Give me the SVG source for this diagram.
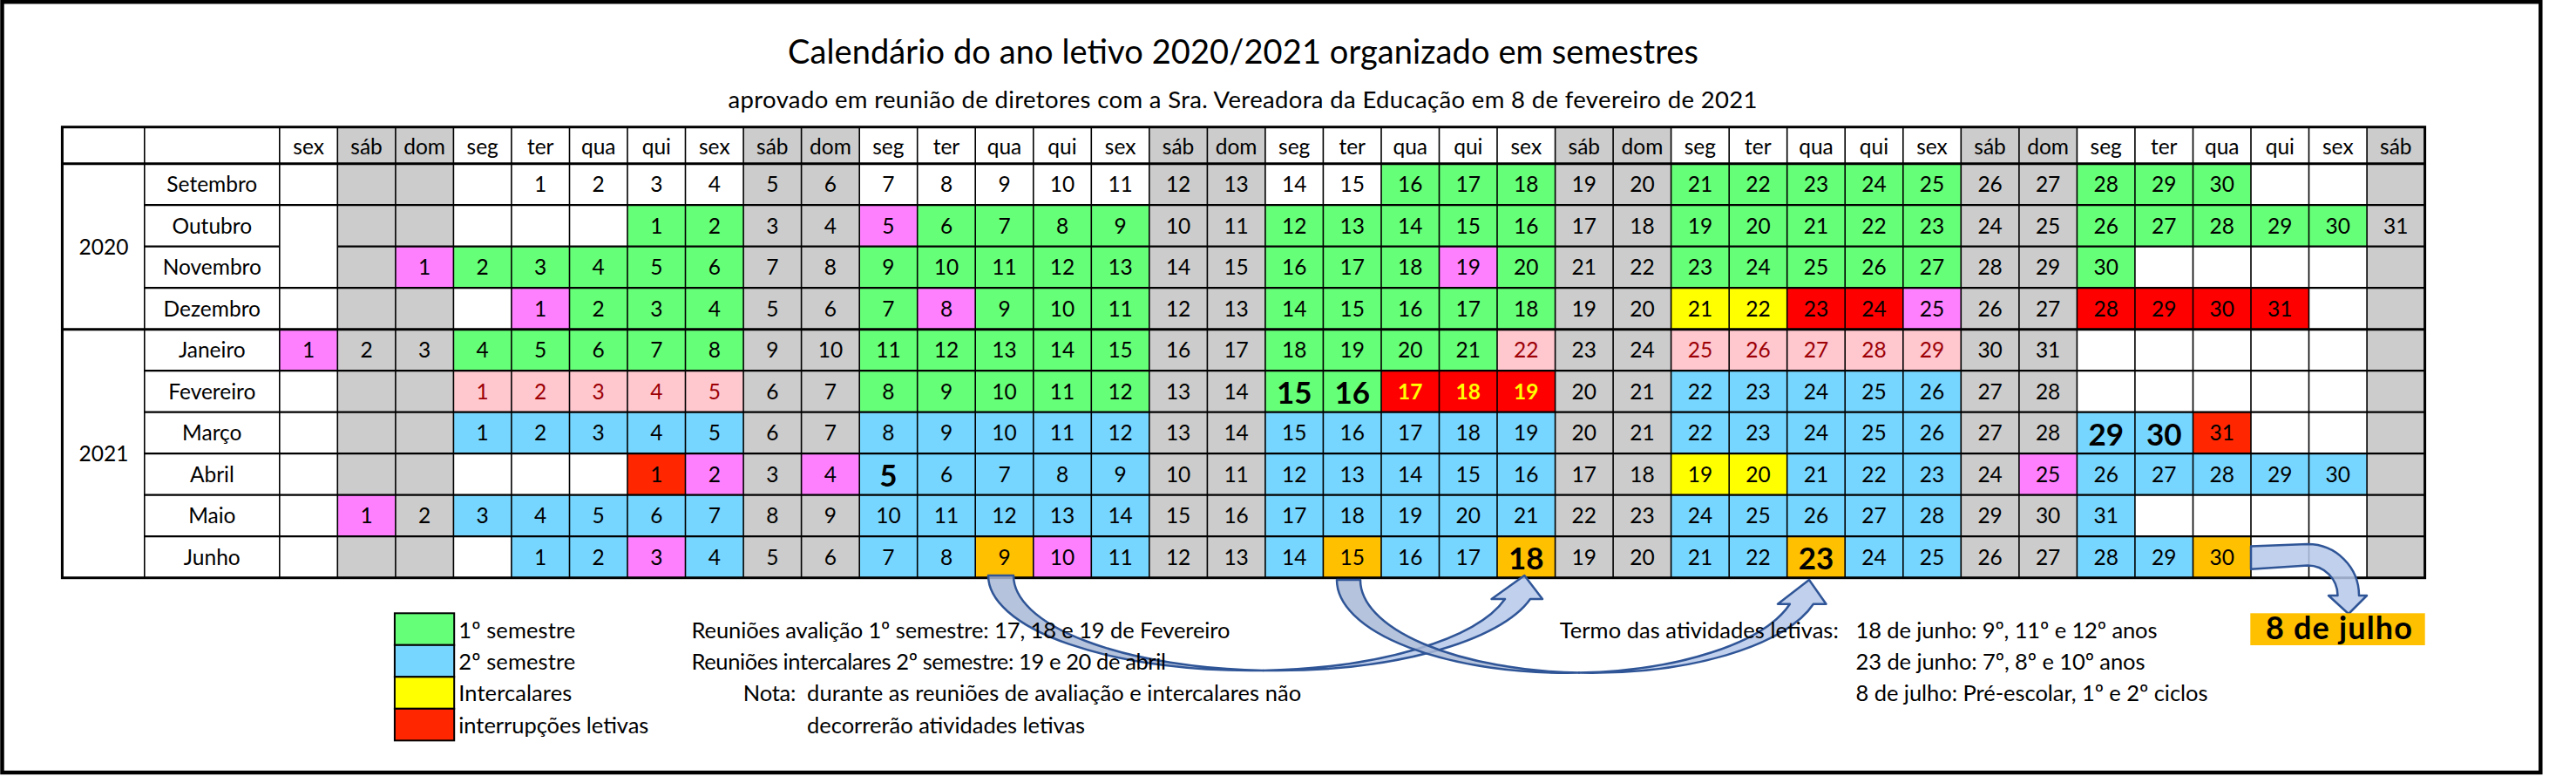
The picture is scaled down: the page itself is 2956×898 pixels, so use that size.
<svg xmlns="http://www.w3.org/2000/svg" width="2956" height="898" viewBox="0 0 2956 898">
<style>
text{font-family:Lato,"Liberation Sans","DejaVu Sans",sans-serif;fill:#000}
.t{font-size:24.5px;text-anchor:middle}
.B{font-size:35px;font-weight:700}
.yb{font-weight:700;fill:#FFFF00}
.pr{fill:#9C0006}
.g{fill:#66FF78}.b{fill:#76D6FF}.w{fill:#CCCCCC}.m{fill:#FF80FF}.p{fill:#FFC7CE}.r{fill:#FF0000}.o{fill:#FF2600}.y{fill:#FFFF00}.a{fill:#FFC000}
.lg{font-size:25.5px}
.grid{fill:none;stroke:#000}
.box{stroke:#000;stroke-width:2}
.arrow{stroke:#2F5597;stroke-width:2.5;stroke-linejoin:round}
.back{fill:#A9B9D6;fill-opacity:.85}
.front{fill:#B6C8E9;fill-opacity:.85}
</style>
<rect x="0" y="0" width="2956" height="898" fill="#fff"/>
<rect id="frame" x="2.5" y="2.2" width="2912.8" height="883.8" fill="#fff" stroke="#000" stroke-width="4.5"/>
<g id="title">
<text x="904" y="72.7" font-size="38" textLength="1045">Calendário do ano letivo 2020/2021 organizado em semestres</text>
<text x="835.5" y="124" font-size="27.5" textLength="1181">aprovado em reunião de diretores com a Sra. Vereadora da Educação em 8 de fevereiro de 2021</text>
</g>
<g id="table">
<rect x="71.4" y="145.7" width="2711.2" height="517" fill="#fff"/>
<g id="weekends">
<rect class="w" x="387.3" y="145.7" width="133.1" height="517"/>
<rect class="w" x="853.1" y="145.7" width="133.1" height="517"/>
<rect class="w" x="1318.8" y="145.7" width="133.1" height="517"/>
<rect class="w" x="1784.6" y="145.7" width="133.1" height="517"/>
<rect class="w" x="2250.3" y="145.7" width="133.1" height="517"/>
<rect class="w" x="2716.1" y="145.7" width="66.5" height="517"/>
</g>
<g id="header" class="t">
<text class="t" x="354.1" y="176.5">sex</text><text class="t" x="420.6" y="176.5">sáb</text><text class="t" x="487.1" y="176.5">dom</text><text class="t" x="553.7" y="176.5">seg</text><text class="t" x="620.2" y="176.5">ter</text><text class="t" x="686.7" y="176.5">qua</text><text class="t" x="753.3" y="176.5">qui</text><text class="t" x="819.8" y="176.5">sex</text><text class="t" x="886.3" y="176.5">sáb</text><text class="t" x="952.9" y="176.5">dom</text><text class="t" x="1019.4" y="176.5">seg</text><text class="t" x="1086.0" y="176.5">ter</text><text class="t" x="1152.5" y="176.5">qua</text><text class="t" x="1219.0" y="176.5">qui</text><text class="t" x="1285.6" y="176.5">sex</text><text class="t" x="1352.1" y="176.5">sáb</text><text class="t" x="1418.6" y="176.5">dom</text><text class="t" x="1485.2" y="176.5">seg</text><text class="t" x="1551.7" y="176.5">ter</text><text class="t" x="1618.2" y="176.5">qua</text><text class="t" x="1684.8" y="176.5">qui</text><text class="t" x="1751.3" y="176.5">sex</text><text class="t" x="1817.8" y="176.5">sáb</text><text class="t" x="1884.4" y="176.5">dom</text><text class="t" x="1950.9" y="176.5">seg</text><text class="t" x="2017.4" y="176.5">ter</text><text class="t" x="2084.0" y="176.5">qua</text><text class="t" x="2150.5" y="176.5">qui</text><text class="t" x="2217.0" y="176.5">sex</text><text class="t" x="2283.6" y="176.5">sáb</text><text class="t" x="2350.1" y="176.5">dom</text><text class="t" x="2416.7" y="176.5">seg</text><text class="t" x="2483.2" y="176.5">ter</text><text class="t" x="2549.7" y="176.5">qua</text><text class="t" x="2616.3" y="176.5">qui</text><text class="t" x="2682.8" y="176.5">sex</text><text class="t" x="2749.3" y="176.5">sáb</text>
</g>
<g id="years">
<text class="t" x="119" y="291.5">2020</text>
<text class="t" x="119" y="529">2021</text>
</g>
<g id="row-setembro" transform="translate(0,187.7)">
<rect class="g" x="1585.0" width="199.6" height="47.5"/><rect class="g" x="1917.6" width="332.7" height="47.5"/><rect class="g" x="2383.4" width="199.6" height="47.5"/>
<text class="t" x="243.3" y="32.6">Setembro</text>
<text class="t" x="620.2" y="32.6">1</text><text class="t" x="686.7" y="32.6">2</text><text class="t" x="753.3" y="32.6">3</text><text class="t" x="819.8" y="32.6">4</text><text class="t" x="886.3" y="32.6">5</text><text class="t" x="952.9" y="32.6">6</text><text class="t" x="1019.4" y="32.6">7</text><text class="t" x="1086.0" y="32.6">8</text><text class="t" x="1152.5" y="32.6">9</text><text class="t" x="1219.0" y="32.6">10</text><text class="t" x="1285.6" y="32.6">11</text><text class="t" x="1352.1" y="32.6">12</text><text class="t" x="1418.6" y="32.6">13</text><text class="t" x="1485.2" y="32.6">14</text><text class="t" x="1551.7" y="32.6">15</text><text class="t" x="1618.2" y="32.6">16</text><text class="t" x="1684.8" y="32.6">17</text><text class="t" x="1751.3" y="32.6">18</text><text class="t" x="1817.8" y="32.6">19</text><text class="t" x="1884.4" y="32.6">20</text><text class="t" x="1950.9" y="32.6">21</text><text class="t" x="2017.4" y="32.6">22</text><text class="t" x="2084.0" y="32.6">23</text><text class="t" x="2150.5" y="32.6">24</text><text class="t" x="2217.0" y="32.6">25</text><text class="t" x="2283.6" y="32.6">26</text><text class="t" x="2350.1" y="32.6">27</text><text class="t" x="2416.7" y="32.6">28</text><text class="t" x="2483.2" y="32.6">29</text><text class="t" x="2549.7" y="32.6">30</text>
</g>
<g id="row-outubro" transform="translate(0,235.2)">
<rect class="g" x="720.0" width="133.1" height="47.5"/><rect class="m" x="986.2" width="66.5" height="47.5"/><rect class="g" x="1052.7" width="266.1" height="47.5"/><rect class="g" x="1451.9" width="332.7" height="47.5"/><rect class="g" x="1917.6" width="332.7" height="47.5"/><rect class="g" x="2383.4" width="332.7" height="47.5"/>
<text class="t" x="243.3" y="32.6">Outubro</text>
<text class="t" x="753.3" y="32.6">1</text><text class="t" x="819.8" y="32.6">2</text><text class="t" x="886.3" y="32.6">3</text><text class="t" x="952.9" y="32.6">4</text><text class="t" x="1019.4" y="32.6">5</text><text class="t" x="1086.0" y="32.6">6</text><text class="t" x="1152.5" y="32.6">7</text><text class="t" x="1219.0" y="32.6">8</text><text class="t" x="1285.6" y="32.6">9</text><text class="t" x="1352.1" y="32.6">10</text><text class="t" x="1418.6" y="32.6">11</text><text class="t" x="1485.2" y="32.6">12</text><text class="t" x="1551.7" y="32.6">13</text><text class="t" x="1618.2" y="32.6">14</text><text class="t" x="1684.8" y="32.6">15</text><text class="t" x="1751.3" y="32.6">16</text><text class="t" x="1817.8" y="32.6">17</text><text class="t" x="1884.4" y="32.6">18</text><text class="t" x="1950.9" y="32.6">19</text><text class="t" x="2017.4" y="32.6">20</text><text class="t" x="2084.0" y="32.6">21</text><text class="t" x="2150.5" y="32.6">22</text><text class="t" x="2217.0" y="32.6">23</text><text class="t" x="2283.6" y="32.6">24</text><text class="t" x="2350.1" y="32.6">25</text><text class="t" x="2416.7" y="32.6">26</text><text class="t" x="2483.2" y="32.6">27</text><text class="t" x="2549.7" y="32.6">28</text><text class="t" x="2616.3" y="32.6">29</text><text class="t" x="2682.8" y="32.6">30</text><text class="t" x="2749.3" y="32.6">31</text>
</g>
<g id="row-novembro" transform="translate(0,282.7)">
<rect class="m" x="453.9" width="66.5" height="47.5"/><rect class="g" x="520.4" width="332.7" height="47.5"/><rect class="g" x="986.2" width="332.7" height="47.5"/><rect class="g" x="1451.9" width="199.6" height="47.5"/><rect class="m" x="1651.5" width="66.5" height="47.5"/><rect class="g" x="1718.0" width="66.5" height="47.5"/><rect class="g" x="1917.6" width="332.7" height="47.5"/><rect class="g" x="2383.4" width="66.5" height="47.5"/>
<text class="t" x="243.3" y="32.6">Novembro</text>
<text class="t" x="487.1" y="32.6">1</text><text class="t" x="553.7" y="32.6">2</text><text class="t" x="620.2" y="32.6">3</text><text class="t" x="686.7" y="32.6">4</text><text class="t" x="753.3" y="32.6">5</text><text class="t" x="819.8" y="32.6">6</text><text class="t" x="886.3" y="32.6">7</text><text class="t" x="952.9" y="32.6">8</text><text class="t" x="1019.4" y="32.6">9</text><text class="t" x="1086.0" y="32.6">10</text><text class="t" x="1152.5" y="32.6">11</text><text class="t" x="1219.0" y="32.6">12</text><text class="t" x="1285.6" y="32.6">13</text><text class="t" x="1352.1" y="32.6">14</text><text class="t" x="1418.6" y="32.6">15</text><text class="t" x="1485.2" y="32.6">16</text><text class="t" x="1551.7" y="32.6">17</text><text class="t" x="1618.2" y="32.6">18</text><text class="t" x="1684.8" y="32.6">19</text><text class="t" x="1751.3" y="32.6">20</text><text class="t" x="1817.8" y="32.6">21</text><text class="t" x="1884.4" y="32.6">22</text><text class="t" x="1950.9" y="32.6">23</text><text class="t" x="2017.4" y="32.6">24</text><text class="t" x="2084.0" y="32.6">25</text><text class="t" x="2150.5" y="32.6">26</text><text class="t" x="2217.0" y="32.6">27</text><text class="t" x="2283.6" y="32.6">28</text><text class="t" x="2350.1" y="32.6">29</text><text class="t" x="2416.7" y="32.6">30</text>
</g>
<g id="row-dezembro" transform="translate(0,330.2)">
<rect class="m" x="586.9" width="66.5" height="47.5"/><rect class="g" x="653.5" width="199.6" height="47.5"/><rect class="g" x="986.2" width="66.5" height="47.5"/><rect class="m" x="1052.7" width="66.5" height="47.5"/><rect class="g" x="1119.2" width="199.6" height="47.5"/><rect class="g" x="1451.9" width="332.7" height="47.5"/><rect class="y" x="1917.6" width="133.1" height="47.5"/><rect class="r" x="2050.7" width="133.1" height="47.5"/><rect class="m" x="2183.8" width="66.5" height="47.5"/><rect class="r" x="2383.4" width="266.1" height="47.5"/>
<text class="t" x="243.3" y="32.6">Dezembro</text>
<text class="t" x="620.2" y="32.6">1</text><text class="t" x="686.7" y="32.6">2</text><text class="t" x="753.3" y="32.6">3</text><text class="t" x="819.8" y="32.6">4</text><text class="t" x="886.3" y="32.6">5</text><text class="t" x="952.9" y="32.6">6</text><text class="t" x="1019.4" y="32.6">7</text><text class="t" x="1086.0" y="32.6">8</text><text class="t" x="1152.5" y="32.6">9</text><text class="t" x="1219.0" y="32.6">10</text><text class="t" x="1285.6" y="32.6">11</text><text class="t" x="1352.1" y="32.6">12</text><text class="t" x="1418.6" y="32.6">13</text><text class="t" x="1485.2" y="32.6">14</text><text class="t" x="1551.7" y="32.6">15</text><text class="t" x="1618.2" y="32.6">16</text><text class="t" x="1684.8" y="32.6">17</text><text class="t" x="1751.3" y="32.6">18</text><text class="t" x="1817.8" y="32.6">19</text><text class="t" x="1884.4" y="32.6">20</text><text class="t" x="1950.9" y="32.6">21</text><text class="t" x="2017.4" y="32.6">22</text><text class="t" x="2084.0" y="32.6">23</text><text class="t" x="2150.5" y="32.6">24</text><text class="t" x="2217.0" y="32.6">25</text><text class="t" x="2283.6" y="32.6">26</text><text class="t" x="2350.1" y="32.6">27</text><text class="t" x="2416.7" y="32.6">28</text><text class="t" x="2483.2" y="32.6">29</text><text class="t" x="2549.7" y="32.6">30</text><text class="t" x="2616.3" y="32.6">31</text>
</g>
<g id="row-janeiro" transform="translate(0,377.7)">
<rect class="m" x="320.8" width="66.5" height="47.5"/><rect class="g" x="520.4" width="332.7" height="47.5"/><rect class="g" x="986.2" width="332.7" height="47.5"/><rect class="g" x="1451.9" width="266.1" height="47.5"/><rect class="p" x="1718.0" width="66.5" height="47.5"/><rect class="p" x="1917.6" width="332.7" height="47.5"/>
<text class="t" x="243.3" y="32.6">Janeiro</text>
<text class="t" x="354.1" y="32.6">1</text><text class="t" x="420.6" y="32.6">2</text><text class="t" x="487.1" y="32.6">3</text><text class="t" x="553.7" y="32.6">4</text><text class="t" x="620.2" y="32.6">5</text><text class="t" x="686.7" y="32.6">6</text><text class="t" x="753.3" y="32.6">7</text><text class="t" x="819.8" y="32.6">8</text><text class="t" x="886.3" y="32.6">9</text><text class="t" x="952.9" y="32.6">10</text><text class="t" x="1019.4" y="32.6">11</text><text class="t" x="1086.0" y="32.6">12</text><text class="t" x="1152.5" y="32.6">13</text><text class="t" x="1219.0" y="32.6">14</text><text class="t" x="1285.6" y="32.6">15</text><text class="t" x="1352.1" y="32.6">16</text><text class="t" x="1418.6" y="32.6">17</text><text class="t" x="1485.2" y="32.6">18</text><text class="t" x="1551.7" y="32.6">19</text><text class="t" x="1618.2" y="32.6">20</text><text class="t" x="1684.8" y="32.6">21</text><text class="t pr" x="1751.3" y="32.6">22</text><text class="t" x="1817.8" y="32.6">23</text><text class="t" x="1884.4" y="32.6">24</text><text class="t pr" x="1950.9" y="32.6">25</text><text class="t pr" x="2017.4" y="32.6">26</text><text class="t pr" x="2084.0" y="32.6">27</text><text class="t pr" x="2150.5" y="32.6">28</text><text class="t pr" x="2217.0" y="32.6">29</text><text class="t" x="2283.6" y="32.6">30</text><text class="t" x="2350.1" y="32.6">31</text>
</g>
<g id="row-fevereiro" transform="translate(0,425.2)">
<rect class="p" x="520.4" width="332.7" height="47.5"/><rect class="g" x="986.2" width="332.7" height="47.5"/><rect class="g" x="1451.9" width="133.1" height="47.5"/><rect class="r" x="1585.0" width="199.6" height="47.5"/><rect class="b" x="1917.6" width="332.7" height="47.5"/>
<text class="t" x="243.3" y="32.6">Fevereiro</text>
<text class="t pr" x="553.7" y="32.6">1</text><text class="t pr" x="620.2" y="32.6">2</text><text class="t pr" x="686.7" y="32.6">3</text><text class="t pr" x="753.3" y="32.6">4</text><text class="t pr" x="819.8" y="32.6">5</text><text class="t" x="886.3" y="32.6">6</text><text class="t" x="952.9" y="32.6">7</text><text class="t" x="1019.4" y="32.6">8</text><text class="t" x="1086.0" y="32.6">9</text><text class="t" x="1152.5" y="32.6">10</text><text class="t" x="1219.0" y="32.6">11</text><text class="t" x="1285.6" y="32.6">12</text><text class="t" x="1352.1" y="32.6">13</text><text class="t" x="1418.6" y="32.6">14</text><text class="t B" x="1485.2" y="38">15</text><text class="t B" x="1551.7" y="38">16</text><text class="t yb" x="1618.2" y="32.6">17</text><text class="t yb" x="1684.8" y="32.6">18</text><text class="t yb" x="1751.3" y="32.6">19</text><text class="t" x="1817.8" y="32.6">20</text><text class="t" x="1884.4" y="32.6">21</text><text class="t" x="1950.9" y="32.6">22</text><text class="t" x="2017.4" y="32.6">23</text><text class="t" x="2084.0" y="32.6">24</text><text class="t" x="2150.5" y="32.6">25</text><text class="t" x="2217.0" y="32.6">26</text><text class="t" x="2283.6" y="32.6">27</text><text class="t" x="2350.1" y="32.6">28</text>
</g>
<g id="row-marco" transform="translate(0,472.7)">
<rect class="b" x="520.4" width="332.7" height="47.5"/><rect class="b" x="986.2" width="332.7" height="47.5"/><rect class="b" x="1451.9" width="332.7" height="47.5"/><rect class="b" x="1917.6" width="332.7" height="47.5"/><rect class="b" x="2383.4" width="133.1" height="47.5"/><rect class="o" x="2516.5" width="66.5" height="47.5"/>
<text class="t" x="243.3" y="32.6">Março</text>
<text class="t" x="553.7" y="32.6">1</text><text class="t" x="620.2" y="32.6">2</text><text class="t" x="686.7" y="32.6">3</text><text class="t" x="753.3" y="32.6">4</text><text class="t" x="819.8" y="32.6">5</text><text class="t" x="886.3" y="32.6">6</text><text class="t" x="952.9" y="32.6">7</text><text class="t" x="1019.4" y="32.6">8</text><text class="t" x="1086.0" y="32.6">9</text><text class="t" x="1152.5" y="32.6">10</text><text class="t" x="1219.0" y="32.6">11</text><text class="t" x="1285.6" y="32.6">12</text><text class="t" x="1352.1" y="32.6">13</text><text class="t" x="1418.6" y="32.6">14</text><text class="t" x="1485.2" y="32.6">15</text><text class="t" x="1551.7" y="32.6">16</text><text class="t" x="1618.2" y="32.6">17</text><text class="t" x="1684.8" y="32.6">18</text><text class="t" x="1751.3" y="32.6">19</text><text class="t" x="1817.8" y="32.6">20</text><text class="t" x="1884.4" y="32.6">21</text><text class="t" x="1950.9" y="32.6">22</text><text class="t" x="2017.4" y="32.6">23</text><text class="t" x="2084.0" y="32.6">24</text><text class="t" x="2150.5" y="32.6">25</text><text class="t" x="2217.0" y="32.6">26</text><text class="t" x="2283.6" y="32.6">27</text><text class="t" x="2350.1" y="32.6">28</text><text class="t B" x="2416.7" y="38">29</text><text class="t B" x="2483.2" y="38">30</text><text class="t" x="2549.7" y="32.6">31</text>
</g>
<g id="row-abril" transform="translate(0,520.2)">
<rect class="o" x="720.0" width="66.5" height="47.5"/><rect class="m" x="786.5" width="66.5" height="47.5"/><rect class="m" x="919.6" width="66.5" height="47.5"/><rect class="b" x="986.2" width="332.7" height="47.5"/><rect class="b" x="1451.9" width="332.7" height="47.5"/><rect class="y" x="1917.6" width="133.1" height="47.5"/><rect class="b" x="2050.7" width="199.6" height="47.5"/><rect class="m" x="2316.9" width="66.5" height="47.5"/><rect class="b" x="2383.4" width="332.7" height="47.5"/>
<text class="t" x="243.3" y="32.6">Abril</text>
<text class="t" x="753.3" y="32.6">1</text><text class="t" x="819.8" y="32.6">2</text><text class="t" x="886.3" y="32.6">3</text><text class="t" x="952.9" y="32.6">4</text><text class="t B" x="1019.4" y="38">5</text><text class="t" x="1086.0" y="32.6">6</text><text class="t" x="1152.5" y="32.6">7</text><text class="t" x="1219.0" y="32.6">8</text><text class="t" x="1285.6" y="32.6">9</text><text class="t" x="1352.1" y="32.6">10</text><text class="t" x="1418.6" y="32.6">11</text><text class="t" x="1485.2" y="32.6">12</text><text class="t" x="1551.7" y="32.6">13</text><text class="t" x="1618.2" y="32.6">14</text><text class="t" x="1684.8" y="32.6">15</text><text class="t" x="1751.3" y="32.6">16</text><text class="t" x="1817.8" y="32.6">17</text><text class="t" x="1884.4" y="32.6">18</text><text class="t" x="1950.9" y="32.6">19</text><text class="t" x="2017.4" y="32.6">20</text><text class="t" x="2084.0" y="32.6">21</text><text class="t" x="2150.5" y="32.6">22</text><text class="t" x="2217.0" y="32.6">23</text><text class="t" x="2283.6" y="32.6">24</text><text class="t" x="2350.1" y="32.6">25</text><text class="t" x="2416.7" y="32.6">26</text><text class="t" x="2483.2" y="32.6">27</text><text class="t" x="2549.7" y="32.6">28</text><text class="t" x="2616.3" y="32.6">29</text><text class="t" x="2682.8" y="32.6">30</text>
</g>
<g id="row-maio" transform="translate(0,567.7)">
<rect class="m" x="387.3" width="66.5" height="47.5"/><rect class="b" x="520.4" width="332.7" height="47.5"/><rect class="b" x="986.2" width="332.7" height="47.5"/><rect class="b" x="1451.9" width="332.7" height="47.5"/><rect class="b" x="1917.6" width="332.7" height="47.5"/><rect class="b" x="2383.4" width="66.5" height="47.5"/>
<text class="t" x="243.3" y="32.6">Maio</text>
<text class="t" x="420.6" y="32.6">1</text><text class="t" x="487.1" y="32.6">2</text><text class="t" x="553.7" y="32.6">3</text><text class="t" x="620.2" y="32.6">4</text><text class="t" x="686.7" y="32.6">5</text><text class="t" x="753.3" y="32.6">6</text><text class="t" x="819.8" y="32.6">7</text><text class="t" x="886.3" y="32.6">8</text><text class="t" x="952.9" y="32.6">9</text><text class="t" x="1019.4" y="32.6">10</text><text class="t" x="1086.0" y="32.6">11</text><text class="t" x="1152.5" y="32.6">12</text><text class="t" x="1219.0" y="32.6">13</text><text class="t" x="1285.6" y="32.6">14</text><text class="t" x="1352.1" y="32.6">15</text><text class="t" x="1418.6" y="32.6">16</text><text class="t" x="1485.2" y="32.6">17</text><text class="t" x="1551.7" y="32.6">18</text><text class="t" x="1618.2" y="32.6">19</text><text class="t" x="1684.8" y="32.6">20</text><text class="t" x="1751.3" y="32.6">21</text><text class="t" x="1817.8" y="32.6">22</text><text class="t" x="1884.4" y="32.6">23</text><text class="t" x="1950.9" y="32.6">24</text><text class="t" x="2017.4" y="32.6">25</text><text class="t" x="2084.0" y="32.6">26</text><text class="t" x="2150.5" y="32.6">27</text><text class="t" x="2217.0" y="32.6">28</text><text class="t" x="2283.6" y="32.6">29</text><text class="t" x="2350.1" y="32.6">30</text><text class="t" x="2416.7" y="32.6">31</text>
</g>
<g id="row-junho" transform="translate(0,615.2)">
<rect class="b" x="586.9" width="133.1" height="47.5"/><rect class="m" x="720.0" width="66.5" height="47.5"/><rect class="b" x="786.5" width="66.5" height="47.5"/><rect class="b" x="986.2" width="133.1" height="47.5"/><rect class="a" x="1119.2" width="66.5" height="47.5"/><rect class="m" x="1185.8" width="66.5" height="47.5"/><rect class="b" x="1252.3" width="66.5" height="47.5"/><rect class="b" x="1451.9" width="66.5" height="47.5"/><rect class="a" x="1518.4" width="66.5" height="47.5"/><rect class="b" x="1585.0" width="133.1" height="47.5"/><rect class="a" x="1718.0" width="66.5" height="47.5"/><rect class="b" x="1917.6" width="133.1" height="47.5"/><rect class="a" x="2050.7" width="66.5" height="47.5"/><rect class="b" x="2117.2" width="133.1" height="47.5"/><rect class="b" x="2383.4" width="133.1" height="47.5"/><rect class="a" x="2516.5" width="66.5" height="47.5"/>
<text class="t" x="243.3" y="32.6">Junho</text>
<text class="t" x="620.2" y="32.6">1</text><text class="t" x="686.7" y="32.6">2</text><text class="t" x="753.3" y="32.6">3</text><text class="t" x="819.8" y="32.6">4</text><text class="t" x="886.3" y="32.6">5</text><text class="t" x="952.9" y="32.6">6</text><text class="t" x="1019.4" y="32.6">7</text><text class="t" x="1086.0" y="32.6">8</text><text class="t" x="1152.5" y="32.6">9</text><text class="t" x="1219.0" y="32.6">10</text><text class="t" x="1285.6" y="32.6">11</text><text class="t" x="1352.1" y="32.6">12</text><text class="t" x="1418.6" y="32.6">13</text><text class="t" x="1485.2" y="32.6">14</text><text class="t" x="1551.7" y="32.6">15</text><text class="t" x="1618.2" y="32.6">16</text><text class="t" x="1684.8" y="32.6">17</text><text class="t B" x="1751.3" y="38">18</text><text class="t" x="1817.8" y="32.6">19</text><text class="t" x="1884.4" y="32.6">20</text><text class="t" x="1950.9" y="32.6">21</text><text class="t" x="2017.4" y="32.6">22</text><text class="t B" x="2084.0" y="38">23</text><text class="t" x="2150.5" y="32.6">24</text><text class="t" x="2217.0" y="32.6">25</text><text class="t" x="2283.6" y="32.6">26</text><text class="t" x="2350.1" y="32.6">27</text><text class="t" x="2416.7" y="32.6">28</text><text class="t" x="2483.2" y="32.6">29</text><text class="t" x="2549.7" y="32.6">30</text>
</g>
<g id="grid">
<path class="grid" stroke-width="1.6" d="M165.8 145.7V662.7M320.8 145.7V662.7M387.3 145.7V662.7M453.9 145.7V662.7M520.4 145.7V662.7M586.9 145.7V662.7M653.5 145.7V662.7M720.0 145.7V662.7M786.5 145.7V662.7M853.1 145.7V662.7M919.6 145.7V662.7M986.2 145.7V662.7M1052.7 145.7V662.7M1119.2 145.7V662.7M1185.8 145.7V662.7M1252.3 145.7V662.7M1318.8 145.7V662.7M1385.4 145.7V662.7M1451.9 145.7V662.7M1518.4 145.7V662.7M1585.0 145.7V662.7M1651.5 145.7V662.7M1718.0 145.7V662.7M1784.6 145.7V662.7M1851.1 145.7V662.7M1917.6 145.7V662.7M1984.2 145.7V662.7M2050.7 145.7V662.7M2117.2 145.7V662.7M2183.8 145.7V662.7M2250.3 145.7V662.7M2316.9 145.7V662.7M2383.4 145.7V662.7M2449.9 145.7V662.7M2516.5 145.7V662.7M2583.0 145.7V662.7M2649.5 145.7V662.7M2716.1 145.7V662.7"/>
<path class="grid" stroke-width="2.2" d="M165.8 235.2H2782.6M165.8 282.7H320.8M387.3 282.7H2782.6M165.8 330.2H2782.6M165.8 425.2H2782.6M165.8 472.7H2782.6M165.8 520.2H2782.6M165.8 567.7H2782.6M165.8 615.2H2782.6"/>
<path class="grid" stroke-width="3" d="M71.4 187.7H2782.6M71.4 377.7H2782.6"/>
<rect class="grid" stroke-width="3" x="71.4" y="145.7" width="2711.2" height="517"/>
</g>
</g>
<g id="connectors">
<g id="arrow-9-18" class="arrow">
<path class="back" d="M1134 660A301.2 109 0 0 0 1449.7 768.9A301.2 109 0 0 1 1163 660Z"/>
<path class="front" d="M1449.7 768.9A301.2 109 0 0 0 1756 687L1770 687L1749.3 660L1711.6 687L1727 687A301.2 109 0 0 1 1449.7 768.9Z"/>
</g>
<g id="arrow-15-23" class="arrow">
<path class="back" d="M1534 665A264.5 106.7 0 0 0 1812 771.6A264.5 106.7 0 0 1 1561 665Z"/>
<path class="front" d="M1812 771.6A264.5 106.7 0 0 0 2080.9 692.7L2095.5 692.7L2076 665L2040 692.7L2053.9 692.7A264.5 106.7 0 0 1 1812 771.6Z"/>
</g>
<g id="arrow-30-julho" class="arrow">
<path class="front" d="M2583 626.5L2648 624A59 59 0 0 1 2707 683L2716 683L2695 704L2672 683L2682.5 683A34.5 34.5 0 0 0 2648 648.5L2583 652.7Z"/>
</g>
</g>
<g id="legend">
<rect class="g box" x="452.9" y="703.3" width="68.3" height="36.5"/>
<rect class="b box" x="452.9" y="739.8" width="68.3" height="36.5"/>
<rect class="y box" x="452.9" y="776.3" width="68.3" height="36.5"/>
<rect class="o box" x="452.9" y="812.8" width="68.3" height="36.5"/>
<text class="lg" x="526.3" y="731.7" textLength="134">1º semestre</text>
<text class="lg" x="526.3" y="768.3" textLength="134">2º semestre</text>
<text class="lg" x="526.3" y="804.3" textLength="130">Intercalares</text>
<text class="lg" x="526.3" y="841" textLength="218">interrupções letivas</text>
</g>
<g id="notes">
<text class="lg" x="793.5" y="731.7" textLength="618">Reuniões avalição 1º semestre: 17, 18 e 19 de Fevereiro</text>
<text class="lg" x="793.5" y="768.3" textLength="544.5">Reuniões intercalares 2º semestre: 19 e 20 de abril</text>
<text class="lg" x="852.8" y="804.3" textLength="60.6">Nota:</text>
<text class="lg" x="926.1" y="804.3" textLength="567">durante as reuniões de avaliação e intercalares não</text>
<text class="lg" x="926.1" y="841" textLength="319">decorrerão atividades letivas</text>
<text class="lg" x="1789.8" y="731.7" textLength="320">Termo das atividades letivas:</text>
<text class="lg" x="2129.5" y="731.7" textLength="346">18 de junho: 9º, 11º e 12º anos</text>
<text class="lg" x="2129.5" y="768.3" textLength="332">23 de junho: 7º, 8º e 10º anos</text>
<text class="lg" x="2129.5" y="804.3" textLength="404">8 de julho: Pré-escolar, 1º e 2º ciclos</text>
</g>
<g id="end-date">
<rect class="a" x="2582.3" y="703.3" width="200.4" height="36.7"/>
<text x="2600" y="733.3" font-size="36" font-weight="700" textLength="168">8 de julho</text>
</g>
</svg>
